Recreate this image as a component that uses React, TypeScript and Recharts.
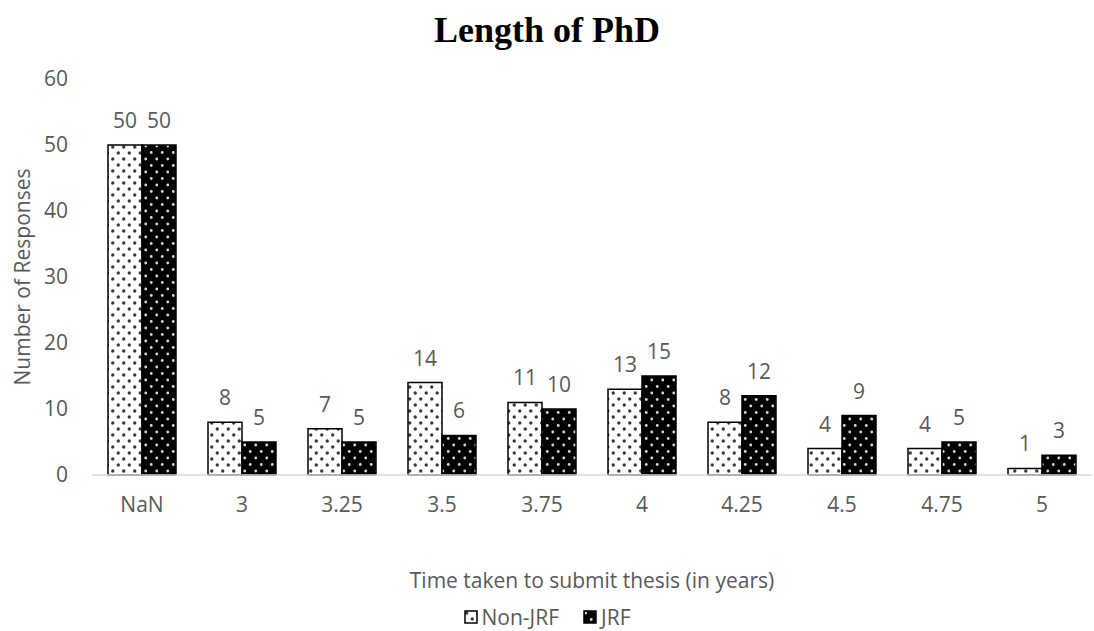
import { BarChart, Bar, XAxis, YAxis, LabelList } from "recharts";

const categories = ["NaN", "3", "3.25", "3.5", "3.75", "4", "4.25", "4.5", "4.75", "5"];
const nonJrfCounts = [50, 8, 7, 14, 11, 13, 8, 4, 4, 1];
const jrfCounts = [50, 5, 5, 6, 10, 15, 12, 9, 5, 3];
const yTicks = [0, 10, 20, 30, 40, 50, 60];

const data = categories.map((years, i) => ({
  years,
  nonJrf: nonJrfCounts[i],
  jrf: jrfCounts[i],
}));

const FONT = "'Open Sans', sans-serif";
const GREY = "#595959";

function YTitle(props: any) {
  const vb = props.viewBox;
  const cx = vb.x + 22;
  const cy = vb.y + vb.height / 2;
  return (
    <text
      x={cx}
      y={cy}
      transform={`rotate(-90 ${cx} ${cy})`}
      textAnchor="middle"
      dominantBaseline="central"
      fill={GREY}
      fontSize={21}
      fontFamily={FONT}
    >
      Number of Responses
    </text>
  );
}

function XTitle(props: any) {
  const vb = props.viewBox;
  return (
    <text
      x={vb.x + vb.width / 2}
      y={vb.y + 105}
      textAnchor="middle"
      dominantBaseline="central"
      fill={GREY}
      fontSize={21}
      fontFamily={FONT}
    >
      Time taken to submit thesis (in years)
    </text>
  );
}

function LegendSwatch({ fill }: { fill: string }) {
  return (
    <svg width={14} height={14} style={{ marginRight: 4 }}>
      <rect x={1} y={1} width={12} height={12} fill={fill} stroke="#000" strokeWidth={1.5} />
    </svg>
  );
}

export default function App() {
  return (
    <div style={{ position: "absolute", left: 0, top: 0, width: 1094, height: 631, background: "#fff" }}>
      <div
        style={{
          position: "absolute",
          top: 8,
          width: 1094,
          textAlign: "center",
          fontFamily: "'Liberation Serif', serif",
          fontWeight: "bold",
          fontSize: 36,
          lineHeight: "44px",
        }}
      >
        Length of PhD
      </div>
      <BarChart
        width={1094}
        height={631}
        data={data}
        margin={{ top: 79, right: 2, bottom: 0, left: 0 }}
        barCategoryGap="16%"
        barGap={0}
      >
        <defs>
          <pattern id="dotsLight" width={11} height={12} patternUnits="userSpaceOnUse">
            <rect width={11} height={12} fill="#fff" />
            <circle cx={2.75} cy={3} r={1.7} fill="#3a3a3a" />
            <circle cx={8.25} cy={9} r={1.7} fill="#3a3a3a" />
          </pattern>
          <pattern id="dotsDark" width={11} height={13} patternUnits="userSpaceOnUse">
            <rect width={11} height={13} fill="#000" />
            <circle cx={2.75} cy={3} r={1.4} fill="#d8d8d8" />
            <circle cx={8.25} cy={9.5} r={1.4} fill="#d8d8d8" />
          </pattern>
        </defs>
        <XAxis
          dataKey="years"
          height={156}
          axisLine={{ stroke: "#d9d9d9", strokeWidth: 1.5 }}
          tickLine={false}
          tickSize={0}
          tickMargin={22}
          tick={{ fill: GREY, fontSize: 21, fontFamily: FONT }}
          label={<XTitle />}
        />
        <YAxis
          width={92}
          domain={[0, 60]}
          ticks={yTicks}
          axisLine={false}
          tickLine={false}
          tickSize={0}
          tickMargin={24}
          tick={{ fill: GREY, fontSize: 21, fontFamily: FONT }}
          label={<YTitle />}
        />
        <Bar dataKey="nonJrf" name="Non-JRF" fill="url(#dotsLight)" stroke="#000" strokeWidth={1.5} isAnimationActive={false}>
          <LabelList dataKey="nonJrf" position="top" offset={17} fill={GREY} fontSize={21} fontFamily={FONT} />
        </Bar>
        <Bar dataKey="jrf" name="JRF" fill="url(#dotsDark)" stroke="#000" strokeWidth={1.5} isAnimationActive={false}>
          <LabelList dataKey="jrf" position="top" offset={17} fill={GREY} fontSize={21} fontFamily={FONT} />
        </Bar>
      </BarChart>
      <div
        style={{
          position: "absolute",
          top: 603,
          width: 1094,
          display: "flex",
          justifyContent: "center",
          alignItems: "center",
          fontFamily: FONT,
          fontSize: 21,
          color: GREY,
        }}
      >
        <LegendSwatch fill="url(#dotsLight)" />
        <span style={{ marginRight: 24 }}>Non-JRF</span>
        <LegendSwatch fill="url(#dotsDark)" />
        <span>JRF</span>
      </div>
    </div>
  );
}
